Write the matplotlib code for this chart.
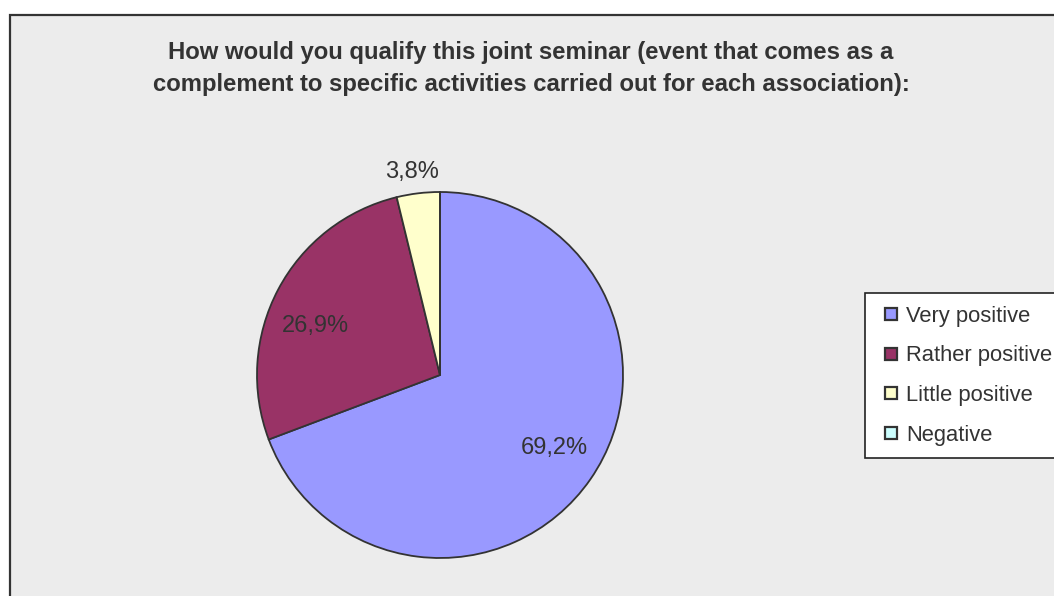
import matplotlib

matplotlib.use("Agg")
import matplotlib.pyplot as plt
import numpy as np
from matplotlib.lines import Line2D
from matplotlib.patches import Rectangle

categories = ["Very positive", "Rather positive", "Little positive", "Negative"]
shares = [69.2, 26.9, 3.8, 0.0]
colors = ["#9999FF", "#993366", "#FFFFCC", "#CCFFFF"]
title = ("How would you qualify this joint seminar (event that comes as a\n"
         "complement to specific activities carried out for each association):")

# label placement (radius, angle nudge in degrees) per slice
label_place = [(0.74, 2.0), (0.73, 6.4), (1.12, 0.9), (0.0, 0.0)]

W, H = 1054, 596
fig = plt.figure(figsize=(W / 100, H / 100), dpi=100, facecolor="white")

# chart area: grey panel with dark frame, running off the right/bottom edges
fig.patches.append(Rectangle((10 / W, -0.05), 1.1, 1 - 15 / H + 0.05,
                             transform=fig.transFigure, facecolor="#ECECEC",
                             edgecolor="#333333", linewidth=1.6, zorder=-5))

fig.text(531 / W, 1 - 68.5 / H, title, ha="center", va="center", fontsize=17.2,
         fontweight="bold", color="#333333", family="Liberation Sans",
         linespacing=1.5)

cx, cy, r = 440, 375, 183
ax = fig.add_axes([(cx - r) / W, (H - cy - r) / H, 2 * r / W, 2 * r / H])
ax.set_axis_off()
wedges, _ = ax.pie(shares, colors=colors, startangle=90, counterclock=False,
                   wedgeprops=dict(edgecolor="#333333", linewidth=1.3))
ax.set_xlim(-1, 1)
ax.set_ylim(-1, 1)

for w, v, (dist, nudge) in zip(wedges, shares, label_place):
    if v <= 0:
        continue
    mid = np.deg2rad((w.theta1 + w.theta2) / 2 + nudge)
    ax.text(dist * np.cos(mid), dist * np.sin(mid), f"{v:.1f}%".replace(".", ","),
            ha="center", va="center", fontsize=17, color="#333333",
            family="Liberation Sans")

handles = [Line2D([], [], linestyle="none", marker="s", markersize=8.5,
                  markerfacecolor=c, markeredgecolor="#333333", markeredgewidth=1.6)
           for c in colors]
leg = fig.legend(handles, categories, loc="upper left",
                 bbox_to_anchor=(865 / W, 1 - 293 / H),
                 prop={"family": "Liberation Sans", "size": 15.8},
                 handlelength=1.25, handletextpad=0.05,
                 labelspacing=0.85, borderpad=0.58, borderaxespad=0,
                 fancybox=False, framealpha=1, labelcolor="#333333")
leg.get_frame().set_edgecolor("#222222")
leg.get_frame().set_linewidth(1.2)

fig.savefig("out.png", dpi=100, facecolor="white")
